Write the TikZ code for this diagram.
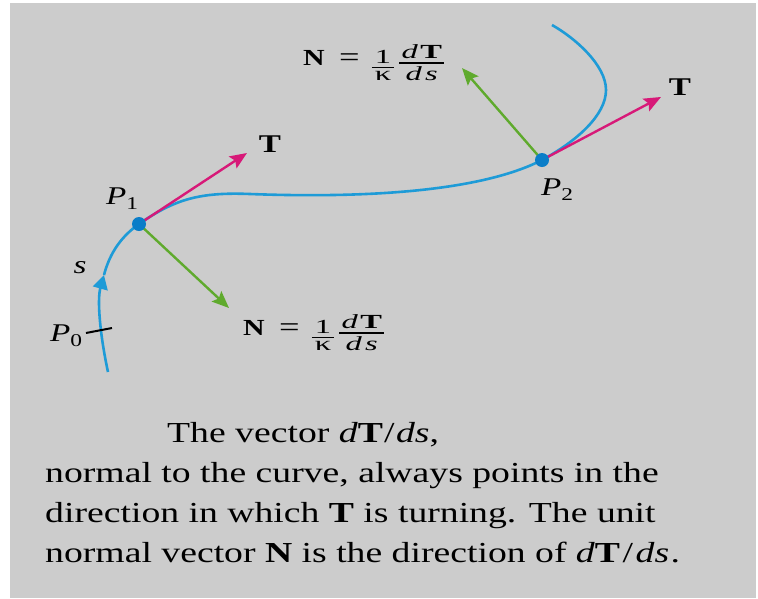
\documentclass[tikz,border=0pt]{standalone}
\usepackage{fontspec}
\setmainfont{Liberation Serif}
\usepackage{graphicx}
\usetikzlibrary{arrows.meta}
\definecolor{bg}{RGB}{204,204,204}
\definecolor{curveblue}{RGB}{30,155,215}
\definecolor{dotblue}{RGB}{10,125,200}
\definecolor{tmag}{RGB}{215,25,120}
\definecolor{ngreen}{RGB}{95,170,45}
\newcommand{\sx}[1]{\scalebox{1.3}[1]{#1}}
\newcommand{\fx}[1]{\scalebox{1.25}[1]{#1}}
\newcommand{\lab}{\fontsize{25.5}{30}\selectfont}
\newcommand{\smallpart}{\fontsize{18}{20}\selectfont}
\newcommand{\numfont}{\fontsize{20}{22}\selectfont}
\newcommand{\denfont}{\fontsize{20}{22}\selectfont}
% #1 width, #2 numerator, #3 denominator
\newcommand{\myfrac}[3]{\raisebox{-15.5pt}{\vbox{\hbox to #1{\numfont\hss\fx{#2}\hss}\kern3.5pt\hrule height 1.6pt\kern3pt\hbox to #1{\denfont\hss\fx{#3}\hss}}}}
\newcommand{\eqN}{\sx{\fontsize{23}{28}\selectfont\textbf{N}\hspace{11pt}\raisebox{-1.5pt}{\fontsize{28}{30}\selectfont =}\hspace{9.5pt}\myfrac{17pt}{1}{κ}\hspace{4pt}\myfrac{34.6pt}{\textit{d}\kern1.5pt\textbf{T}}{\textit{d}\kern2pt\textit{s}}}}
\tikzset{
  curve/.style={draw=curveblue, line width=2.6pt},
  tvec/.style={draw=tmag, line width=2.4pt, -{Stealth[length=17pt,width=14pt,inset=3pt]}, fill=tmag},
  nvec/.style={draw=ngreen, line width=2.4pt, -{Stealth[length=17pt,width=14pt,inset=3pt]}, fill=ngreen},
  dot/.style={circle, fill=dotblue, minimum size=14pt, inner sep=0pt},
  lbl/.style={inner sep=0pt},
  captext/.style={inner sep=0pt, anchor=base west, font=\fontsize{29}{40}\selectfont},
  tickline/.style={draw=black, line width=2pt}
}
\begin{document}
\begin{tikzpicture}[x=1pt,y=-1pt]
\useasboundingbox (0,0) rectangle (758,598);
\fill[white] (0,0) rectangle (758,598);
\fill[bg] (10,3) rectangle (756,598);

\coordinate (P1) at (139,224);
\coordinate (P2) at (542,160);
\coordinate (S) at (104,275);
\coordinate (T1) at (247,153);
\coordinate (N1) at (229,308);
\coordinate (T2) at (661,97);
\coordinate (N2) at (462,68);

% curve
\draw[curve] (S) .. controls (110,252) and (122,236) .. (P1)
  .. controls (175,199) and (200,192) .. (250,194)
  .. controls (330,197) and (470,197) .. (P2)
  .. controls (577,141) and (606,115) .. (606,90)
  .. controls (606,65) and (575,38) .. (552,25);
\draw[curve, -{Triangle[length=14pt,width=15pt]}] (108,372) .. controls (100,335) and (97,300) .. (S);

% P0 tick
\draw[tickline] (86,333) -- (112,328);

% vectors
\draw[tvec] (P1) -- (T1);
\draw[nvec] (P1) -- (N1);
\draw[tvec] (P2) -- (T2);
\draw[nvec] (P2) -- (N2);

% dots
\node[dot] (D1) at (P1) {};
\node[dot] (D2) at (P2) {};

% labels
\node[lbl] (LT1) at (270,144) {\sx{\lab\textbf{T}}};
\node[lbl] (LT2) at (680,87) {\sx{\lab\textbf{T}}};
\node[lbl] (LP1) at (122,199) {\sx{\lab\textit{P}\raisebox{-5pt}{\smallpart 1}}};
\node[lbl] (LP2) at (557,190) {\sx{\lab\textit{P}\raisebox{-5pt}{\smallpart 2}}};
\node[lbl] (LP0) at (66,336) {\sx{\lab\textit{P}\raisebox{-5pt}{\smallpart 0}}};
\node[lbl] (LS) at (80,268) {\sx{\lab\textit{s}}};
\node[lbl, anchor=base west] (EQ1) at (243,335) {\eqN};
\node[lbl, anchor=base west] (EQ2) at (303,65) {\eqN};

% caption
\node[captext] (C1) at (167,442) {\sx{The vector \textit{d}\textbf{T}\kern1pt/\kern1pt\textit{ds},}};
\node[captext] (C2) at (45,482) {\sx{normal to the curve, always points in the}};
\node[captext] (C3) at (45,522) {\sx{direction in which \textbf{T} is turning. The unit}};
\node[captext] (C4) at (45,562) {\sx{normal vector \textbf{N} is the direction of \textit{d}\textbf{T}\kern2pt/\kern2pt\textit{ds}\kern1pt.}};
\end{tikzpicture}
\end{document}
